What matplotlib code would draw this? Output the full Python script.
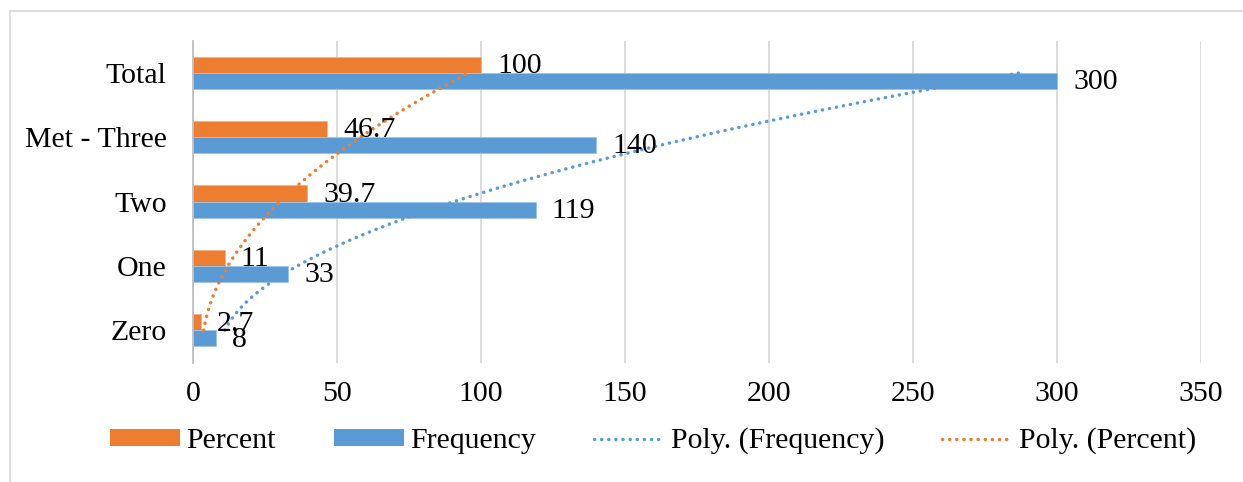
import numpy as np
import matplotlib
matplotlib.use("Agg")
import matplotlib.pyplot as plt
from matplotlib.patches import Rectangle
from matplotlib.lines import Line2D
from matplotlib.patches import Patch

categories = ["Zero", "One", "Two", "Met - Three", "Total"]
percent = [2.7, 11, 39.7, 46.7, 100]
frequency = [8, 33, 119, 140, 300]
percent_labels = ["2.7", "11", "39.7", "46.7", "100"]
frequency_labels = ["8", "33", "119", "140", "300"]
xticks = [0, 50, 100, 150, 200, 250, 300, 350]

ORANGE = "#ED7D31"
BLUE = "#5B9BD5"
GRID = "#D9D9D9"

plt.rcParams['font.family'] = ['Liberation Serif', 'DejaVu Serif']
FS = 21.5

W, H = 1243, 482
fig = plt.figure(figsize=(W / 100, H / 100), dpi=100)
ax = fig.add_axes([193 / W, (H - 362.5) / H, (1201 - 193) / W, (362.5 - 40.5) / H])

y = np.arange(len(categories))
bh = 0.25
ax.barh(y + bh / 2, percent, height=bh, color=ORANGE, edgecolor="#F4B183", linewidth=0.6, zorder=2)
ax.barh(y - bh / 2, frequency, height=bh, color=BLUE, edgecolor="#9DC3E6", linewidth=0.6, zorder=2)

# polynomial (order 2) trendlines, fitted on category index like Excel
t = np.arange(1, len(categories) + 1)
tt = np.linspace(1, len(categories), 200)
pf = np.polyval(np.polyfit(t, frequency, 2), tt)
pp = np.polyval(np.polyfit(t, percent, 2), tt)
LW = 2.5
dot = (0, (0.05, 2.0))
ax.plot(pf, tt - 1, color=BLUE, lw=LW, linestyle=dot, dash_capstyle='round', zorder=3)
ax.plot(pp, tt - 1, color=ORANGE, lw=LW, linestyle=dot, dash_capstyle='round', zorder=3)

# data labels
off = 16 / 2.88
for yi, v, lab in zip(y, percent, percent_labels):
    ax.text(v + off, yi + bh / 2 - 0.02, lab, fontsize=FS, va='center', ha='left', zorder=4)
for yi, v, lab in zip(y, frequency, frequency_labels):
    ax.text(v + off, yi - bh / 2 - 0.02, lab, fontsize=FS, va='center', ha='left', zorder=4)

ax.set_xlim(0, 350)
ax.set_ylim(-0.5, len(categories) - 0.5)
ax.set_xticks(xticks)
ax.set_xticklabels([str(v) for v in xticks], fontsize=FS)
ax.set_yticks(y)
ax.set_yticklabels(categories, fontsize=FS)
ax.tick_params(axis='x', length=0, pad=13)
ax.tick_params(axis='y', length=0, pad=19)
ax.xaxis.grid(True, color=GRID, lw=1.3, zorder=0)
ax.set_axisbelow(True)
for s in ["top", "right", "bottom"]:
    ax.spines[s].set_visible(False)
ax.spines["left"].set_color("#BFBFBF")
ax.spines["left"].set_linewidth(1.3)

handles = [
    Patch(facecolor=ORANGE, edgecolor="none"),
    Patch(facecolor=BLUE, edgecolor="none"),
    Line2D([], [], color=BLUE, lw=LW, linestyle=dot, dash_capstyle='round'),
    Line2D([], [], color=ORANGE, lw=LW, linestyle=dot, dash_capstyle='round'),
]
labels = ["Percent", "Frequency", "Poly. (Frequency)", "Poly. (Percent)"]
fig.legend(handles, labels, loc='center', bbox_to_anchor=(653 / W, 1 - 441 / H),
           ncol=4, frameon=False, fontsize=FS, handlelength=2.35, handleheight=0.5,
           handletextpad=0.2, columnspacing=1.95, borderaxespad=0, borderpad=0)

# chart area border
fig.patches.append(Rectangle((10 / W, -0.1), 1.2, 1.1 - 11 / H, transform=fig.transFigure,
                             fill=False, edgecolor=GRID, lw=1.3))

fig.savefig("out.png", dpi=100)
